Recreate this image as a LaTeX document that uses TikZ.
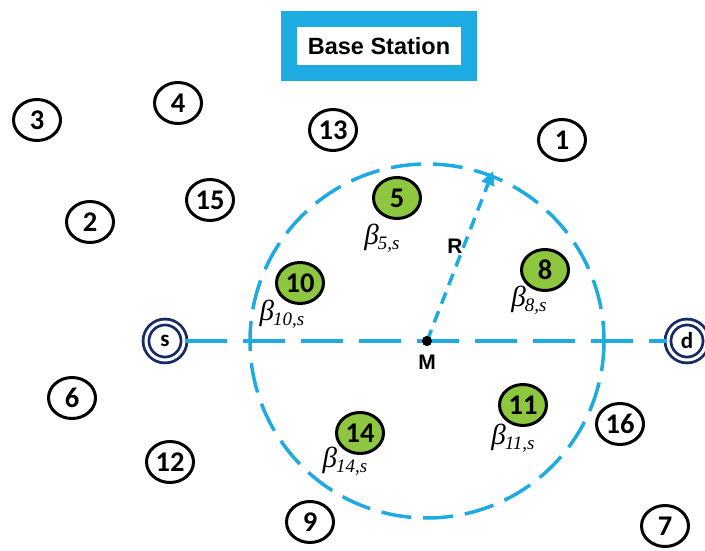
\documentclass[tikz,border=0pt]{standalone}
\usepackage{fontspec}
\setmainfont{Liberation Sans}
\newfontfamily\numfont{Carlito}
\newfontfamily\betafont{Liberation Serif}
\usetikzlibrary{arrows.meta,shapes.geometric}
\newcommand{\betaw}[1]{{\betafont\itshape\fontsize{29}{29}\selectfont β\kern-1pt\raisebox{-5pt}{\fontsize{19}{19}\selectfont #1}}}
\begin{document}
\begin{tikzpicture}[x=1pt,y=-1pt,
  numnode/.style={ellipse,draw=black,line width=3pt,fill=white,minimum width=47pt,minimum height=41pt,
    inner sep=0pt,font=\numfont\fontsize{28.5}{28.5}\selectfont\bfseries},
  relay/.style={numnode,fill=relayColor},
  endnode/.style={circle,draw=navyColor,line width=2.8pt,double=white,double distance=3pt,fill=white,
    minimum size=38pt,inner sep=0pt,font=\numfont\fontsize{23}{23}\selectfont\bfseries},
  bsbox/.style={draw=cyanColor,line width=16pt,fill=white,minimum width=180pt,minimum height=54pt,
    inner sep=0pt,font=\fontsize{23.5}{23.5}\selectfont\bfseries},
  weight/.style={inner sep=0pt},
  link/.style={draw=cyanColor,line width=3.5pt,dash pattern=on 42pt off 16pt},
  ring/.style={draw=cyanColor,line width=3.5pt,dash pattern=on 30pt off 12pt},
  radius/.style={draw=cyanColor,line width=3.5pt,dash pattern=on 12pt off 8pt,
    -{Triangle[length=14pt,width=13pt]}},
  dot/.style={circle,fill=black,minimum size=10pt,inner sep=0pt},
  lbl/.style={inner sep=0pt,font=\fontsize{21}{21}\selectfont\bfseries}]
\definecolor{cyanColor}{RGB}{29,171,226}
\definecolor{relayColor}{RGB}{141,198,63}
\definecolor{navyColor}{RGB}{22,42,102}
\path[use as bounding box,fill=white] (0,0) rectangle (705,551);

\node[bsbox] (bs) at (379,46) {Base Station};

\node[numnode] (n1)  at (562,140) {1};
\node[numnode] (n2)  at ( 90,222) {2};
\node[numnode] (n3)  at ( 37,120) {3};
\node[numnode] (n4)  at (178,103) {4};
\node[numnode] (n6)  at ( 72,398) {6};
\node[numnode] (n7)  at (665,526) {7};
\node[numnode] (n9)  at (310,522) {9};
\node[numnode] (n12) at (170,462) {12};
\node[numnode] (n13) at (333,130) {13};
\node[numnode] (n15) at (210,200) {15};
\node[numnode] (n16) at (620,424) {16};

\node[relay] (n5)  at (397,198) {5};
\node[relay] (n8)  at (545,270) {8};
\node[relay] (n10) at (300,283) {10};
\node[relay] (n11) at (523,405) {11};
\node[relay] (n14) at (360,433) {14};

\node[weight] (b5)  at (382,238) {\betaw{5,s}};
\node[weight] (b8)  at (529,300) {\betaw{8,s}};
\node[weight] (b10) at (282,314) {\betaw{10,s}};
\node[weight] (b11) at (513,438) {\betaw{11,s}};
\node[weight] (b14) at (345,461) {\betaw{14,s}};

\node[endnode] (s) at (165,341) {s};
\node[endnode] (d) at (687,341) {d};

\node[dot] (M) at (427,341) {};
\node[lbl] (Mlbl) at (427,362) {M};
\coordinate (rtip) at (493,171);
\node[lbl] (Rlbl) at (455,246) {R};

\draw[ring] (M.center) circle (177);
\draw[link] (s) -- (d);
\draw[radius] (M.center) -- (rtip);
\node[dot] at (M) {};
\end{tikzpicture}
\end{document}
